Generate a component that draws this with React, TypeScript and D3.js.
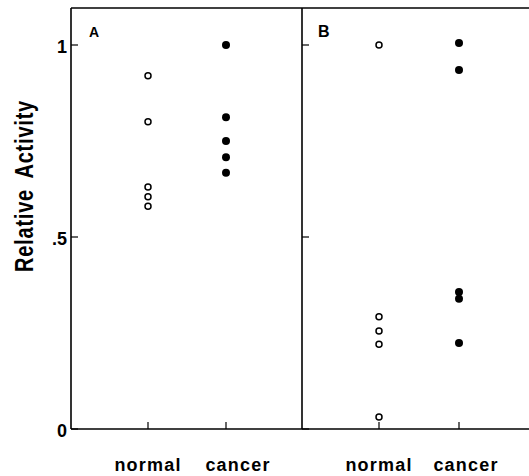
import React from "react";
import * as d3 from "d3";

const categories = ["normal", "cancer"];
const panels = ["A", "B"];
const yTicks = [0, 0.5, 1];
const yTickLabels = ["0", ".5", "1"];

// panel A
const normalA = [0.92, 0.8, 0.63, 0.605, 0.58];
const cancerA = [1.0, 0.812, 0.75, 0.708, 0.667];
// panel B
const normalB = [1.0, 0.292, 0.255, 0.221, 0.031];
const cancerB = [1.005, 0.935, 0.357, 0.339, 0.224];

const W = 529;
const H = 476;
const top = 8;
const bottom = 429;
const panelLeft = [71, 302];
const panelRight = [302, 529];
// where the category ticks sit in each panel
const catPos = [
  [148, 226],
  [379, 459],
];
// label centres (the labels are set a bit off the ticks in the original)
const labelPos = [
  [148, 238],
  [379, 466],
];

const y = d3.scaleLinear().domain([0, 1]).range([bottom, 45]);

const font = "'Liberation Sans', Arial, sans-serif";

const App: React.FC = () => {
  const data = [
    [normalA, cancerA],
    [normalB, cancerB],
  ];

  return (
    <svg
      width={W}
      height={H}
      style={{ position: "absolute", left: 0, top: 0, background: "#fff" }}
    >
      {panels.map((p, i) => {
        const xs = d3.scaleOrdinal<string, number>().domain(categories).range(catPos[i]);
        const xl = d3.scaleOrdinal<string, number>().domain(categories).range(labelPos[i]);
        return (
          <g key={p}>
            <line x1={panelLeft[i]} x2={panelLeft[i]} y1={top} y2={bottom} stroke="#000" strokeWidth={1.6} />
            <line x1={panelLeft[i]} x2={panelRight[i]} y1={top} y2={top} stroke="#000" strokeWidth={1.4} />
            <line x1={panelLeft[i]} x2={panelRight[i]} y1={bottom} y2={bottom} stroke="#000" strokeWidth={1.6} />
            {yTicks.map((t, k) => (
              <g key={t}>
                <line x1={panelLeft[i]} x2={panelLeft[i] + 7} y1={y(t)} y2={y(t)} stroke="#000" strokeWidth={1.2} />
                {i === 0 && (
                  <text
                    x={panelLeft[i] - 4}
                    y={y(t) + 2}
                    dy="0.35em"
                    textAnchor="end"
                    fontFamily={font}
                    fontWeight="bold"
                    fontSize={18}
                  >
                    {yTickLabels[k]}
                  </text>
                )}
              </g>
            ))}
            <text
              x={panelLeft[i] + (i === 0 ? 18 : 16)}
              y={37}
              fontFamily={font}
              fontWeight="bold"
              fontSize={i === 0 ? 14 : 16}
            >
              {p}
            </text>
            {categories.map((c, ci) => (
              <g key={c}>
                <line x1={xs(c)} x2={xs(c)} y1={bottom} y2={bottom - 7} stroke="#000" strokeWidth={1.2} />
                <text
                  x={xl(c)}
                  y={471}
                  textAnchor="middle"
                  fontFamily={font}
                  fontWeight="bold"
                  fontSize={18}
                  letterSpacing={1.2}
                >
                  {c}
                </text>
                {data[i][ci].map((v, k) =>
                  ci === 0 ? (
                    <circle key={k} cx={xs(c)} cy={y(v)} r={3} fill="#fff" stroke="#000" strokeWidth={1.5} />
                  ) : (
                    <circle key={k} cx={xs(c)} cy={y(v)} r={4} fill="#000" />
                  )
                )}
              </g>
            ))}
          </g>
        );
      })}
      {/* tall, narrow lettering like the original */}
      <text
        transform="translate(33, 186) rotate(-90) scale(0.8, 1)"
        textAnchor="middle"
        fontFamily={font}
        fontWeight="bold"
        fontSize={25}
        letterSpacing={1}
        wordSpacing={6}
      >
        Relative Activity
      </text>
    </svg>
  );
};

export default App;
